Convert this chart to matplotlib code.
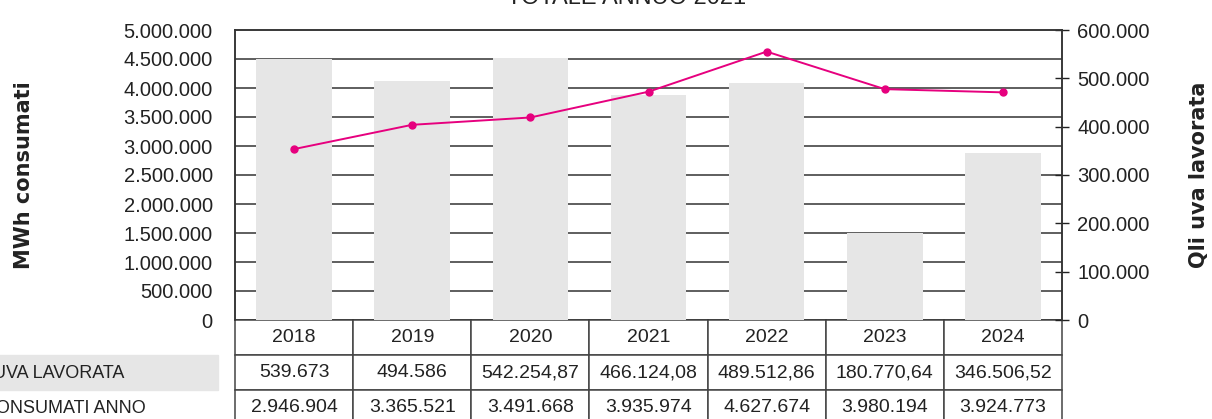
import matplotlib.pyplot as plt
from matplotlib.patches import Rectangle
from matplotlib.ticker import FuncFormatter

# data
anni = ['2018', '2019', '2020', '2021', '2022', '2023', '2024']
qli_uva = [539673, 494586, 542254.87, 466124.08, 489512.86, 180770.64, 346506.52]
mwh = [2946904, 3365521, 3491668, 3935974, 4627674, 3980194, 3924773]
qli_uva_txt = ['539.673', '494.586', '542.254,87', '466.124,08', '489.512,86', '180.770,64', '346.506,52']
mwh_txt = ['2.946.904', '3.365.521', '3.491.668', '3.935.974', '4.627.674', '3.980.194', '3.924.773']
righe = ['QLI UVA LAVORATA', 'MWH CONSUMATI ANNO']

plt.rcParams['font.family'] = ['Liberation Sans', 'DejaVu Sans']

def it_fmt(v, pos):
    return f'{int(round(v)):,}'.replace(',', '.')

fig = plt.figure(figsize=(12.12, 4.19), dpi=100)
W, H = 1212, 419
ax2 = fig.add_axes([235 / W, (H - 320) / H, 827 / W, 290 / H])
ax = ax2.twinx()   # line axis (MWh) drawn on top
ax.yaxis.tick_left()
ax2.yaxis.tick_right()

x = list(range(len(anni)))
dark = '#222222'

# gridlines (left scale) behind the bars
for yv in range(0, 4500001, 500000):
    ax2.axhline(yv / 5000000 * 600000, color='#333333', lw=1.1, zorder=1)

# bars on right axis (Qli)
ax2.bar(x, qli_uva, width=0.64, color='#e6e6e6', zorder=2)
ax2.set_ylim(0, 600000)
ax2.set_xlim(-0.5, len(anni) - 0.5)
ax2.set_yticks(range(0, 600001, 100000))
ax2.yaxis.set_major_formatter(FuncFormatter(it_fmt))
ax2.tick_params(axis='y', direction='inout', length=10, width=1, labelsize=14.5, pad=6,
                colors=dark, left=False, labelleft=False, right=True, labelright=True)
ax2.set_xticks([])

# line on left axis (MWh)
ax.plot(x, mwh, color='#e6007e', lw=1.4, marker='o', ms=5, zorder=5)
ax.set_ylim(0, 5000000)
ax.set_yticks(range(0, 5000001, 500000))
ax.yaxis.set_major_formatter(FuncFormatter(it_fmt))
ax.tick_params(axis='y', length=0, labelsize=14.5, pad=16, colors=dark,
               right=False, labelright=False, left=True, labelleft=True)
ax.set_xticks([])

for a in (ax, ax2):
    for s in a.spines.values():
        s.set_color('#333333')
        s.set_linewidth(1.1)
    a.spines['bottom'].set_visible(False)

fig.text(24 / W, (H - 175) / H, 'MWh consumati', family='DejaVu Sans', fontweight='bold',
         fontsize=15, rotation=90, ha='center', va='center', color=dark)
fig.text(1199 / W, (H - 175) / H, 'Qli uva lavorata', family='DejaVu Sans', fontweight='bold',
         fontsize=15, rotation=90, ha='center', va='center', color=dark)

# table below the axes
rh = 35 / 290
tab = ax2.table(cellText=[anni, qli_uva_txt, mwh_txt], cellLoc='center',
                bbox=[0, -3 * rh, 1, 3 * rh])
tab.auto_set_font_size(False)
tab.set_fontsize(14)
for (r, c), cell in tab.get_celld().items():
    cell.set_edgecolor('#444444')
    cell.set_linewidth(1.1)
    cell.get_text().set_color(dark)

# row labels, clipped at left edge of the figure
fig.patches.append(Rectangle((-60 / W, (H - 390) / H), 278 / W, 35 / H,
                             transform=fig.transFigure, color='#e6e6e6', zorder=0))
fig.text(124 / W, (H - 373) / H, righe[0], ha='right', va='center', fontsize=13, color=dark)
fig.text(146 / W, (H - 408) / H, righe[1], ha='right', va='center', fontsize=13, color=dark)

fig.text(627 / W, (H - 4) / H, 'TOTALE ANNUO 2021', ha='center', va='baseline', fontsize=17,
         color=dark)

fig.savefig('out.png', dpi=100)
